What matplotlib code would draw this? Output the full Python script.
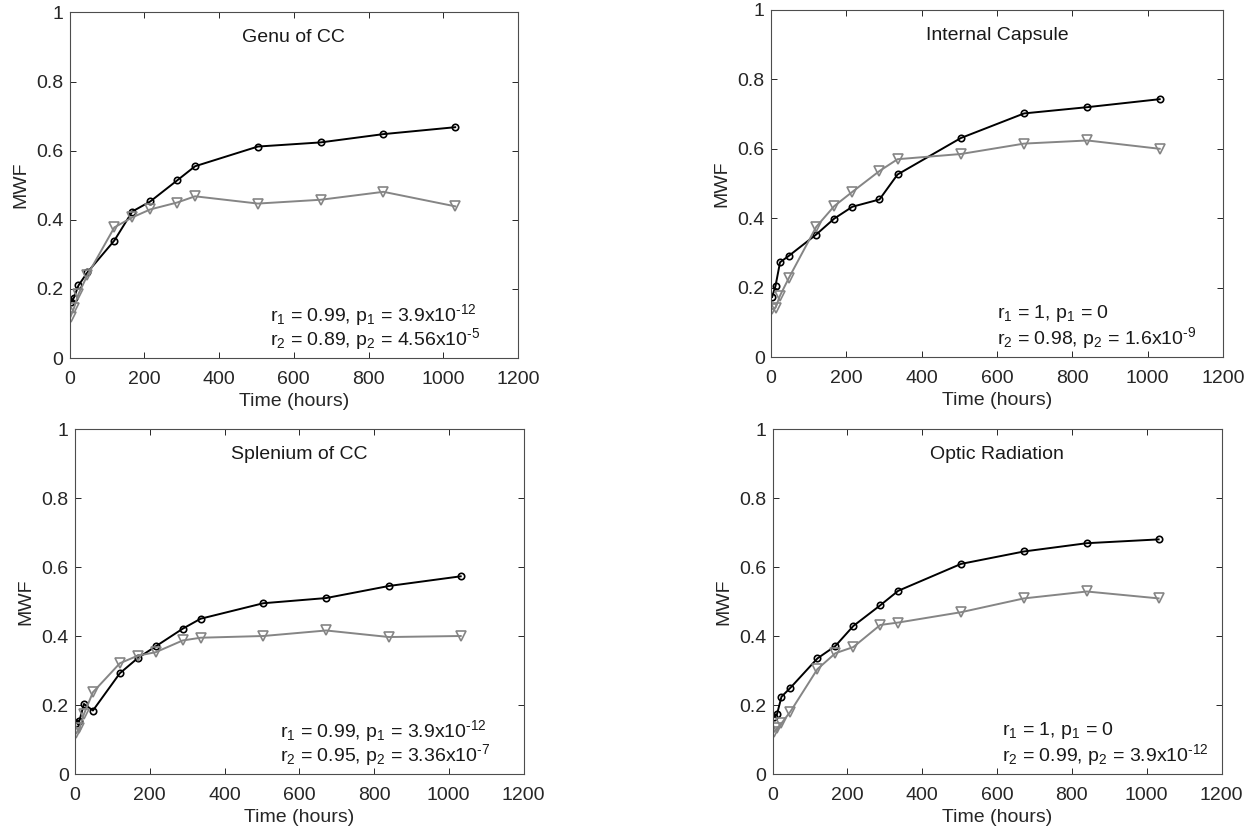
import matplotlib
matplotlib.use("Agg")
import matplotlib.pyplot as plt
from matplotlib.ticker import FuncFormatter

plt.rcParams['font.family'] = ['Liberation Sans', 'DejaVu Sans']
plt.rcParams['mathtext.default'] = 'regular'

# time points (hours)
hours = [3, 12, 24, 48, 120, 168, 216, 288, 336, 504, 672, 840, 1032]

# region names
regions = ["Genu of CC", "Internal Capsule", "Splenium of CC", "Optic Radiation"]

# MWF, series 1 (black, circles)
genu_1 = [0.161, 0.175, 0.21, 0.248, 0.34, 0.424, 0.453, 0.514, 0.555, 0.612, 0.624, 0.648, 0.668]
ic_1 = [0.173, 0.205, 0.273, 0.292, 0.353, 0.399, 0.433, 0.454, 0.526, 0.631, 0.702, 0.72, 0.743]
splen_1 = [0.149, 0.155, 0.203, 0.184, 0.292, 0.336, 0.37, 0.421, 0.45, 0.495, 0.51, 0.545, 0.573]
optic_1 = [0.164, 0.173, 0.224, 0.25, 0.335, 0.371, 0.429, 0.489, 0.531, 0.609, 0.645, 0.669, 0.68]

# MWF, series 2 (gray, triangles)
genu_2 = [0.12, 0.145, 0.185, 0.24, 0.378, 0.407, 0.43, 0.45, 0.468, 0.447, 0.458, 0.481, 0.439]
ic_2 = [0.138, 0.142, 0.177, 0.229, 0.375, 0.435, 0.476, 0.536, 0.57, 0.585, 0.615, 0.624, 0.6]
splen_2 = [0.118, 0.132, 0.174, 0.237, 0.321, 0.343, 0.353, 0.387, 0.395, 0.4, 0.416, 0.397, 0.4]
optic_2 = [0.121, 0.132, 0.147, 0.181, 0.304, 0.35, 0.368, 0.432, 0.439, 0.469, 0.509, 0.529, 0.509]

# correlation annotations (hyphen U+2010 in the exponents, as in the original)
stats_1 = ["r$_1$ = 0.99, p$_1$ = 3.9x10$^{\u201012}$",
           "r$_1$ = 1, p$_1$ = 0",
           "r$_1$ = 0.99, p$_1$ = 3.9x10$^{\u201012}$",
           "r$_1$ = 1, p$_1$ = 0"]
stats_2 = ["r$_2$ = 0.89, p$_2$ = 4.56x10$^{\u20105}$",
           "r$_2$ = 0.98, p$_2$ = 1.6x10$^{\u20109}$",
           "r$_2$ = 0.95, p$_2$ = 3.36x10$^{\u20107}$",
           "r$_2$ = 0.99, p$_2$ = 3.9x10$^{\u201012}$"]

series_1 = [genu_1, ic_1, splen_1, optic_1]
series_2 = [genu_2, ic_2, splen_2, optic_2]

# axes boxes in pixels: left, right, top, bottom
W, H = 1254, 830
boxes = [(69.5, 518, 12.5, 358), (771, 1223, 10, 357),
         (75, 523.5, 429, 774), (772.5, 1221.5, 429, 774)]
text_x = [537, 600, 548, 614]

fig = plt.figure(figsize=(W / 100, H / 100), dpi=100)
axc = '#262626'
fs = 14

for i in range(4):
    l, r, t, b = boxes[i]
    ax = fig.add_axes([l / W, 1 - b / H, (r - l) / W, (b - t) / H])
    ax.plot(hours, series_1[i], color='black', lw=1.4, marker='o', ms=4.6,
            mfc='none', mew=1.2)
    ax.plot(hours, series_2[i], color='#858585', lw=1.4, marker='v', ms=6.8,
            mfc='none', mew=1.2)
    ax.set_xlim(0, 1200)
    ax.set_ylim(0, 1)
    ax.set_xticks([0, 200, 400, 600, 800, 1000, 1200])
    ax.set_yticks([0, 0.2, 0.4, 0.6, 0.8, 1])
    ax.yaxis.set_major_formatter(FuncFormatter(lambda v, p: '%g' % v))
    ax.tick_params(direction='in', top=True, right=True, length=4,
                   width=0.7, colors=axc, labelsize=fs)
    ax.tick_params(axis='x', pad=9)
    ax.tick_params(axis='y', pad=4.5)
    for s in ax.spines.values():
        s.set_color('#4d4d4d')
        s.set_linewidth(0.8)
    ax.set_xlabel("Time (hours)", fontsize=fs, color=axc, labelpad=4)
    ax.set_ylabel("MWF", fontsize=fs, color=axc, labelpad=5)
    ax.text(0.5, 0.927, regions[i], transform=ax.transAxes, ha='center',
            va='center', fontsize=fs, color='#1a1a1a')
    ax.text(text_x[i], 0.125, stats_1[i], ha='left', va='center',
            fontsize=fs, color='#1a1a1a')
    ax.text(text_x[i], 0.055, stats_2[i], ha='left', va='center',
            fontsize=fs, color='#1a1a1a')

fig.savefig("out.png", dpi=100)
